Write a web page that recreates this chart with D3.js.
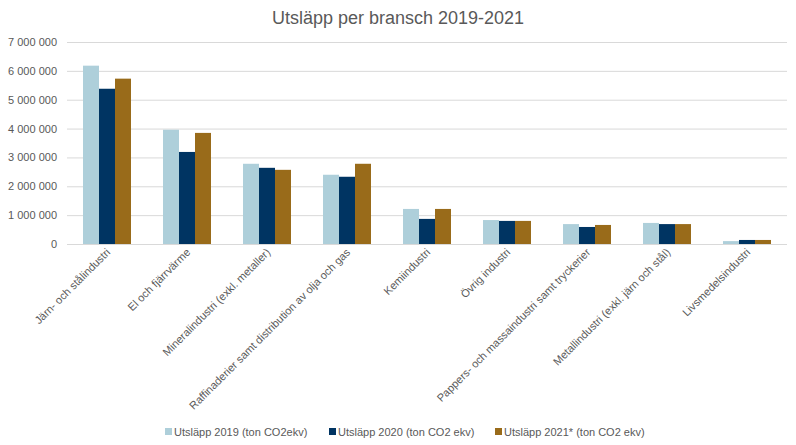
<!DOCTYPE html>
<html><head><meta charset="utf-8">
<script src="https://cdn.jsdelivr.net/npm/d3@7"></script>
<style>body{margin:0;background:#fff;} text{font-family:"Liberation Sans",Arial,sans-serif;}</style>
</head><body>
<svg id="c" width="796" height="445"></svg>
<script>
const categories = ["Järn- och stålindustri","El och fjärrvärme","Mineralindustri (exkl. metaller)","Raffinaderier samt distribution av olja och gas","Kemiindustri","Övrig industri","Pappers- och massaindustri samt tryckerier","Metallindustri (exkl. järn och stål)","Livsmedelsindustri"];
const seriesNames = ["Utsläpp 2019 (ton CO2ekv)","Utsläpp 2020 (ton CO2 ekv)","Utsläpp 2021* (ton CO2 ekv)"];
const s2019 = [6180000,3960000,2780000,2400000,1215000,830000,690000,730000,100000];
const s2020 = [5380000,3190000,2640000,2330000,870000,800000,590000,690000,140000];
const s2021 = [5730000,3850000,2570000,2780000,1215000,800000,660000,690000,140000];
const yTicks = [0,1000000,2000000,3000000,4000000,5000000,6000000,7000000];
const colors = ["#AECFDA","#003462","#996B1A"];

(function(){
const series = [s2019,s2020,s2021];
const svg = d3.select("#c");
const L=67, R=787, T=42, B=244;
const x = d3.scaleBand().domain(categories).range([L,R]).paddingInner(0.4).paddingOuter(0.2);
const x1 = d3.scaleBand().domain([0,1,2]).range([0,x.bandwidth()]);
const y = d3.scaleLinear().domain([0,7000000]).range([B,T]);
const fmt = v => d3.format(",")(v).replace(/,/g," ");

svg.append("text").attr("x",398).attr("y",24).attr("text-anchor","middle")
  .attr("font-size",18).attr("fill","#595959").text("Utsläpp per bransch 2019-2021");

const ya = svg.append("g").attr("transform",`translate(${L},0)`)
  .call(d3.axisLeft(y).tickValues(yTicks).tickSize(-(R-L)).tickFormat(fmt).tickPadding(10));
ya.select(".domain").remove();
ya.selectAll(".tick line").attr("stroke","#D9D9D9").attr("stroke-width",1);
ya.selectAll(".tick text").attr("fill","#595959").attr("font-size",11);

const g = svg.append("g").selectAll("g").data(categories).join("g")
  .attr("transform",d=>`translate(${x(d)},0)`);
g.selectAll("rect").data((d,i)=>series.map((s,k)=>({k,v:s[i]}))).join("rect")
  .attr("x",d=>x1(d.k)).attr("width",x1.bandwidth())
  .attr("y",d=>y(d.v)).attr("height",d=>y(0)-y(d.v)).attr("fill",d=>colors[d.k]);

const xa = svg.append("g").attr("transform",`translate(0,${B})`)
  .call(d3.axisBottom(x).tickSize(0).tickPadding(0));
xa.select(".domain").remove();
xa.selectAll(".tick text").attr("fill","#595959").attr("font-size",11)
  .attr("text-anchor","end").attr("dy",0)
  .attr("transform","translate(4,9) rotate(-45)");

const lg = svg.append("g");
const lx = [165,329,495];
seriesNames.forEach((n,i)=>{
  lg.append("rect").attr("x",lx[i]).attr("y",428).attr("width",7).attr("height",7).attr("fill",colors[i]);
  lg.append("text").attr("x",lx[i]+9).attr("y",436).attr("font-size",11).attr("fill","#595959").text(n);
});
})();
</script>
</body></html>
